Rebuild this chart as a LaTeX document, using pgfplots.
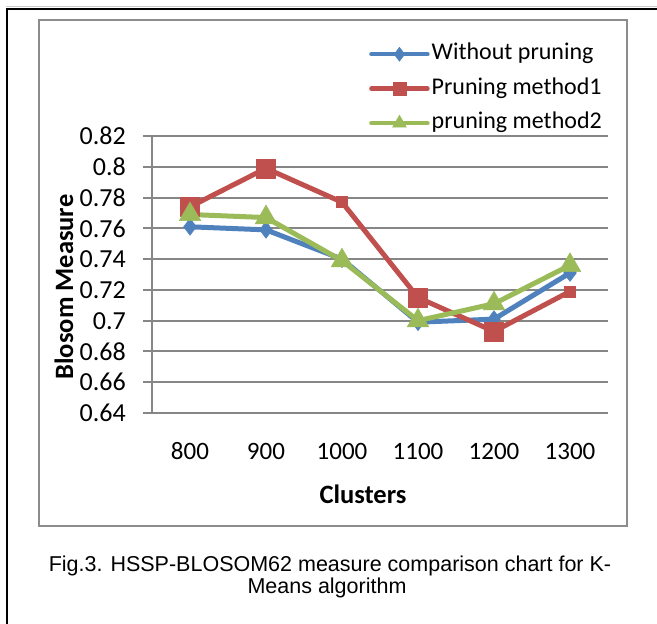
\documentclass[border=0pt]{standalone}
\usepackage{pgfplots}
\pgfplotsset{compat=1.18}
\usepackage{fontspec}
\setmainfont{Carlito}
\newfontfamily\arial{Liberation Sans}
\definecolor{xblue}{HTML}{4F81BD}
\definecolor{xred}{HTML}{C0504D}
\definecolor{xgreen}{HTML}{9BBB59}
\definecolor{gridc}{HTML}{868686}
\definecolor{framec}{HTML}{8C8C8C}
\begin{document}
\begin{tikzpicture}
\useasboundingbox (0pt,0pt) rectangle (657pt,-624pt);
\draw[gray!40, line width=1pt] (6pt,-6.5pt) -- (657pt,-6.5pt);
\draw[black, line width=2pt] (7pt,-624pt) -- (7pt,-9pt) -- (657pt,-9pt);
\draw[framec, line width=2pt] (39pt,-20pt) rectangle (627pt,-526pt);
\begin{axis}[
  at={(152pt,-413pt)}, anchor=south west,
  scale only axis, width=456pt, height=277pt,
  xmin=-0.5, xmax=5.5, ymin=0.64, ymax=0.82,
  clip=false,
  axis x line*=bottom, axis y line*=left,
  axis line style={gridc, line width=2pt, -},
  xtick={0,1,2,3,4,5},
  xticklabels={800,900,1000,1100,1200,1300},
  xtick style={draw=none},
  ytick={0.64,0.66,0.68,0.70,0.72,0.74,0.76,0.78,0.80,0.82},
  yticklabels={0.64,0.66,0.68,0.7,0.72,0.74,0.76,0.78,0.8,0.82},
  ytick style={gridc, line width=2pt},
  major tick length=9pt, tick align=outside,
  ymajorgrids, grid style={gridc, line width=2pt},
  xticklabel style={font=\fontsize{25}{28}\selectfont, anchor=base, inner sep=0pt, yshift=-37pt},
  yticklabel style={font=\fontsize{26}{28}\selectfont, anchor=east, inner sep=0pt, xshift=-17pt},
  legend image code/.code={\draw[mark repeat=2,mark phase=2,line cap=round,#1] plot coordinates {(0pt,0pt) (28pt,0pt) (56pt,0pt)};},
  legend style={at={(axis description cs:0.4759,1.3375)}, anchor=north west,
    draw=none, fill=none, inner sep=0pt,
    font=\fontsize{24}{28}\selectfont,
    row sep=11.5pt, column sep=2pt,
    nodes={inner sep=0pt, text height=17pt, text depth=6pt},
    cells={anchor=west}},
]
\addplot[xblue, line width=5pt, line join=round, mark=diamond*, mark size=8.5pt,
  mark options={line width=0.5pt, fill=xblue, draw=xblue}, forget plot]
  coordinates {(0,0.761) (1,0.759) (2,0.740) (3,0.699) (4,0.701) (5,0.731)};
\addplot[xred, line width=5pt, line join=round, mark=square*, mark size=9.5pt, mark indices={1,2,4,5},
  mark options={line width=0.5pt, fill=xred, draw=xred}, forget plot]
  coordinates {(0,0.774) (1,0.799) (2,0.777) (3,0.715) (4,0.693) (5,0.719)};
\addplot[xred, only marks, mark=square*, mark size=5.5pt, mark indices={3,6},
  mark options={line width=0.5pt, fill=xred, draw=xred}, forget plot]
  coordinates {(0,0.774) (1,0.799) (2,0.777) (3,0.715) (4,0.693) (5,0.719)};
\addplot[xgreen, line width=5pt, line join=round, mark=triangle*, mark size=12.5pt,
  mark options={line width=0.5pt, fill=xgreen, draw=xgreen}, forget plot]
  coordinates {(0,0.769) (1,0.767) (2,0.739) (3,0.700) (4,0.711) (5,0.736)};
\addlegendimage{xblue, line width=4.5pt, mark=diamond*, mark size=7pt, mark options={line width=0.5pt, fill=xblue, draw=xblue}}
\addlegendentry{Without pruning}
\addlegendimage{xred, line width=4.5pt, mark=square*, mark size=6.5pt, mark options={line width=0.5pt, fill=xred, draw=xred}}
\addlegendentry{Pruning method1}
\addlegendimage{xgreen, line width=4.5pt, mark=triangle*, mark size=8pt, mark options={line width=0.5pt, fill=xgreen, draw=xgreen}}
\addlegendentry{pruning method2}
\end{axis}
\node[font=\bfseries\fontsize{26.5}{30}\selectfont, anchor=base] at (363pt,-503pt) {Clusters};
\node[font=\bfseries\fontsize{26.5}{30}\selectfont, rotate=90, anchor=base] at (73pt,-287pt) {Blosom Measure};
\node[font=\arial\fontsize{21.5}{24}\selectfont, anchor=base] at (330pt,-571pt) {Fig.3. HSSP-BLOSOM62 measure comparison chart for K-};
\node[font=\arial\fontsize{21.5}{24}\selectfont, anchor=base] at (327pt,-593pt) {Means algorithm};
\end{tikzpicture}
\end{document}
